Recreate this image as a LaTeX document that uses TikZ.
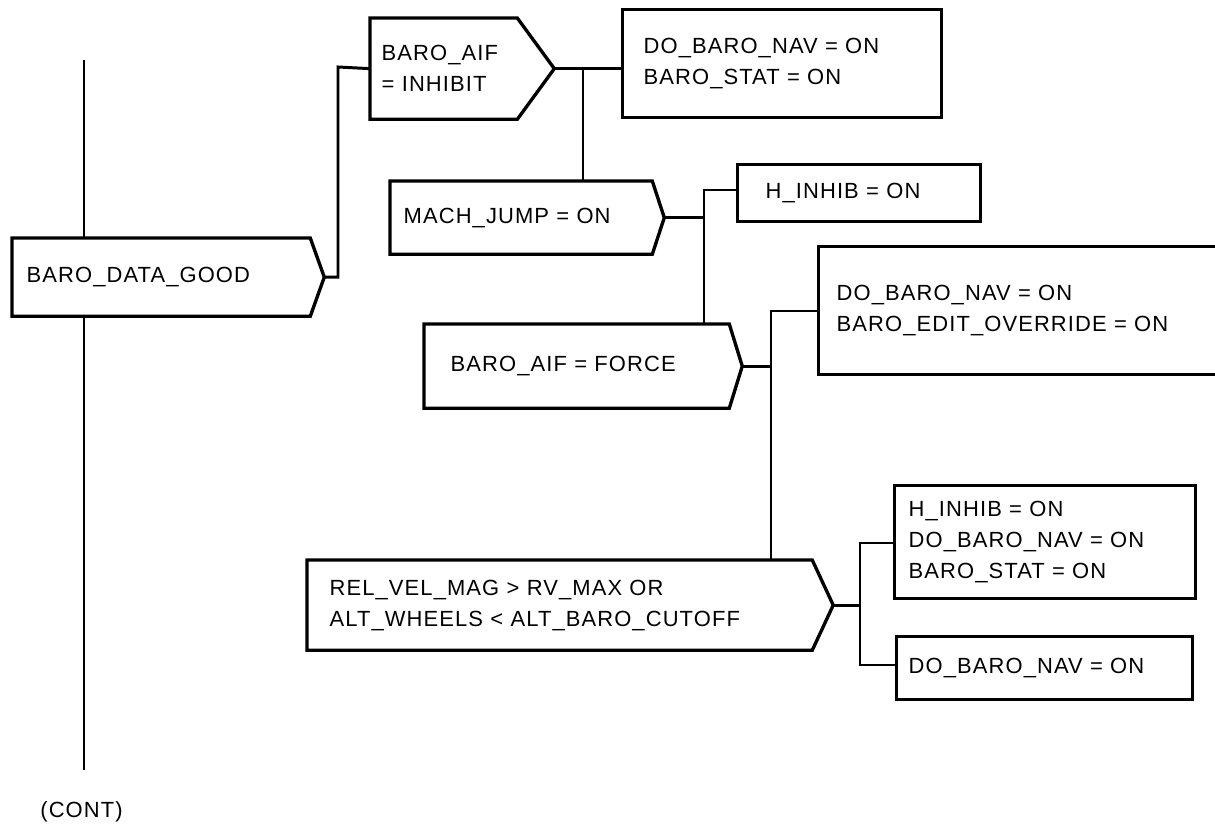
\documentclass[tikz,border=0pt]{standalone}
\usepackage{fontspec}
\setmainfont{Liberation Sans}[LetterSpace=5]
\usetikzlibrary{positioning}

\tikzset{
  box/.style={rectangle, draw, line width=1.9pt, anchor=north west, align=left,
    inner ysep=0pt, font=\fontsize{12.5}{17.5}\selectfont},
  cond/.style={box, draw=none},
  wire/.style={line width=1.7pt},
}
% chevron outline round a cond node, tip named "<node> tip"
\newcommand{\condline}[2]{%
  \draw[line width=1.9pt, line join=miter] (#1.north west) -- (#1.north east)
    -- ([xshift=#2]#1.east) coordinate (#1 tip) -- (#1.south east)
    -- (#1.south west) -- cycle;}

\begin{document}
\begin{tikzpicture}[x=0.02cm, y=-0.02cm]
\clip (0,0) rectangle (1215,827);

% conditions
\node[cond, minimum width=5.9cm, minimum height=1.5cm, inner xsep=0.26cm, text width=5.38cm] (good) at (12,238) {BARO\_DATA\_GOOD};
\node[cond, minimum width=2.88cm, minimum height=1.96cm, inner xsep=0.2cm, text width=2.48cm] (aif) at (370,18) {BARO\_AIF\\= INHIBIT};
\node[cond, minimum width=5.18cm, minimum height=1.4cm, inner xsep=0.24cm, text width=4.7cm] (mach) at (390,181) {MACH\_JUMP = ON};
\node[cond, minimum width=6.04cm, minimum height=1.62cm, inner xsep=0.5cm, text width=5.04cm] (force) at (424,324) {BARO\_AIF = FORCE};
\node[cond, minimum width=10.04cm, minimum height=1.74cm, inner xsep=0.42cm, text width=9.2cm] (rel) at (307,560) {REL\_VEL\_MAG > RV\_MAX OR\\ALT\_WHEELS < ALT\_BARO\_CUTOFF};

\condline{good}{0.28cm}
\condline{aif}{0.74cm}
\condline{mach}{0.24cm}
\condline{force}{0.26cm}
\condline{rel}{0.42cm}

% actions
\node[box, minimum width=6.38cm, minimum height=2.16cm, inner xsep=0.42cm, text width=5.54cm] (nav) at (621,8) {DO\_BARO\_NAV = ON\\BARO\_STAT = ON};
\node[box, minimum width=4.86cm, minimum height=1.14cm, inner xsep=0.56cm, text width=3.74cm] (hinhib) at (736,163) {H\_INHIB = ON};
\node[box, minimum width=8.4cm, minimum height=2.56cm, inner xsep=0.36cm, text width=7.68cm] (edit) at (817,245) {DO\_BARO\_NAV = ON\\BARO\_EDIT\_OVERRIDE = ON};
\node[box, minimum width=6.02cm, minimum height=2.26cm, inner xsep=0.28cm, text width=5.46cm] (set) at (893,484) {H\_INHIB = ON\\DO\_BARO\_NAV = ON\\BARO\_STAT = ON};
\node[box, minimum width=5.92cm, minimum height=1.26cm, inner xsep=0.24cm, text width=5.44cm] (only) at (895,635) {DO\_BARO\_NAV = ON};

\node[font=\fontsize{12.5}{17.5}\selectfont, anchor=west, inner sep=0pt] (cont) at (40,812) {(CONT)};

% junctions
\coordinate (top) at (84,60);
\coordinate (bot) at (84,770);
\coordinate (j0) at (338,67);
\coordinate (j1) at (583,67);
\coordinate (j2) at (704,190);
\coordinate (j3) at (771,311);
\coordinate (j4) at (860,543);
\coordinate (j5) at (860,665);

\draw[wire] (top) -- (top |- good.north);
\draw[wire] (top |- good.south) -- (bot);

\draw[wire] (good tip) -| (j0) -- (aif.west);
\draw[wire] (aif tip) -- (aif tip -| nav.west);
\draw[wire] (j1) -- (j1 |- mach.north);

\draw[wire] (mach tip) -- (mach tip -| j2);
\draw[wire] (hinhib.west |- j2) -- (j2) -- (j2 |- force.north);

\draw[wire] (force tip) -- (force tip -| j3);
\draw[wire] (edit.west |- j3) -- (j3) -- (j3 |- rel.north);

\draw[wire] (rel tip) -- (rel tip -| j4);
\draw[wire] (set.west |- j4) -- (j4) -- (j5) -- (only.west |- j5);

\end{tikzpicture}
\end{document}
